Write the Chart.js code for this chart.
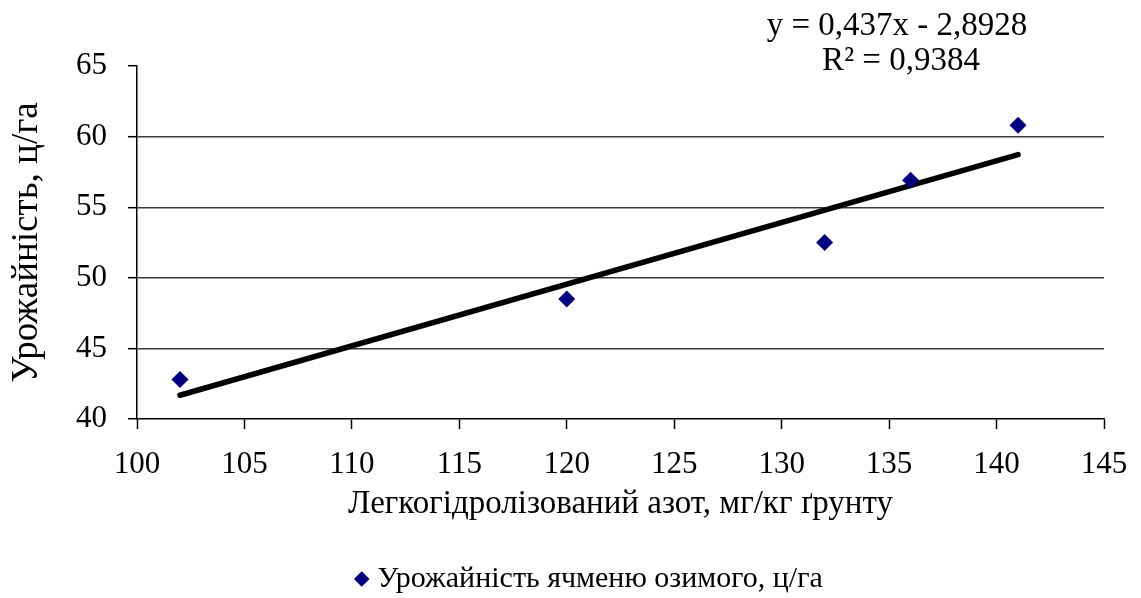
<!DOCTYPE html>
<html>
<head>
<meta charset="utf-8">
<script src="https://cdn.jsdelivr.net/npm/chart.js@4/dist/chart.umd.min.js"></script>
<style>
  html, body { margin: 0; padding: 0; background: #fff; }
  #wrap { width: 1141px; height: 598px; }
</style>
</head>
<body>
<div id="wrap"><canvas id="yieldChart" width="1141" height="598"></canvas></div>
<script>
// Легкогідролізований азот (мг/кг) vs урожайність ячменю (ц/га)
var nitrogen = [102, 120, 132, 136, 141];
var yieldValues = [42.8, 48.5, 52.5, 56.9, 60.8];

// linear trend y = a*x + b
var trendSlope = 0.437;
var trendIntercept = -2.8928;
var trendR2 = '0,9384';

var xRange = [100, 145];
var yRange = [40, 65];
var tickStep = 5;

var seriesLabel = 'Урожайність ячменю озимого, ц/га';
var xTitle = 'Легкогідролізований азот, мг/кг ґрунту';
var yTitle = 'Урожайність, ц/га';

var serif = "'Liberation Serif', 'Times New Roman', serif";

var points = nitrogen.map(function (x, i) { return { x: x, y: yieldValues[i] }; });

var xLo = Math.min.apply(null, nitrogen);
var xHi = Math.max.apply(null, nitrogen);
var trendPoints = [
  { x: xLo, y: trendSlope * xLo + trendIntercept },
  { x: xHi, y: trendSlope * xHi + trendIntercept }
];

function fmt(n) { return String(n).replace('.', ','); }
var eqLine1 = 'y = ' + fmt(trendSlope) + 'x - ' + fmt(Math.abs(trendIntercept));
var eqLine2 = 'R² = ' + trendR2;

// equation of the trend drawn in the top right corner
var equationPlugin = {
  id: 'equation',
  afterDraw: function (chart) {
    var ctx = chart.ctx;
    var area = chart.chartArea;
    ctx.save();
    ctx.fillStyle = '#000';
    ctx.font = '33px ' + serif;
    ctx.textAlign = 'center';
    ctx.textBaseline = 'middle';
    ctx.fillText(eqLine1, area.right - 207, 26);
    ctx.fillText(eqLine2, area.right - 203, 61);
    ctx.restore();
  }
};

// legend sits a little right of the canvas centre and near the bottom edge
var legendShift = {
  id: 'legendShift',
  afterLayout: function (chart) {
    var lg = chart.legend;
    lg.left += 40;
    lg.right += 40;
    lg.top += 6;
    lg.bottom += 6;
  }
};

var ctx = document.getElementById('yieldChart');

var chart = new Chart(ctx, {
  type: 'scatter',
  data: {
    datasets: [{
      label: seriesLabel,
      data: points,
      pointStyle: 'rectRot',
      pointRadius: 8.5,
      pointHoverRadius: 8.5,
      backgroundColor: '#000080',
      borderColor: '#000080',
      borderWidth: 0,
      order: 1
    }, {
      type: 'line',
      label: 'trend',
      data: trendPoints,
      borderColor: '#000',
      borderWidth: 5.5,
      borderCapStyle: 'round',
      pointRadius: 0,
      fill: false,
      order: 2
    }]
  },
  options: {
    responsive: false,
    animation: false,
    layout: { padding: { left: 0, right: 37, top: 66, bottom: 0 } },
    plugins: {
      tooltip: { enabled: false },
      legend: {
        position: 'bottom',
        labels: {
          usePointStyle: true,
          boxWidth: 1,
          boxHeight: 11,
          color: '#000',
          font: { family: serif, size: 30 },
          padding: 2,
          filter: function (item) { return item.datasetIndex === 0; }
        }
      }
    },
    scales: {
      x: {
        type: 'linear',
        min: xRange[0],
        max: xRange[1],
        ticks: {
          stepSize: tickStep,
          color: '#000',
          padding: 13,
          font: { family: serif, size: 31, lineHeight: 1.45 }
        },
        grid: {
          drawOnChartArea: false,
          drawTicks: true,
          tickLength: 10,
          tickColor: '#000',
          tickWidth: 1.5
        },
        border: { color: '#000', width: 1.5 },
        title: {
          display: true,
          text: xTitle,
          color: '#000',
          font: { family: serif, size: 33 },
          padding: { top: 0, bottom: 32 }
        },
        afterFit: function (scale) { scale.height = 137; }
      },
      y: {
        min: yRange[0],
        max: yRange[1],
        ticks: {
          stepSize: tickStep,
          color: '#000',
          padding: 21,
          font: { family: serif, size: 31 }
        },
        grid: {
          color: function (c) {
            var v = c.tick ? c.tick.value : null;
            return (v === yRange[0] || v === yRange[1]) ? 'rgba(0,0,0,0)' : '#3a3a3a';
          },
          lineWidth: 1.4,
          tickLength: 9,
          tickColor: '#000',
          tickWidth: 1.5
        },
        border: { color: '#000', width: 1.5 },
        title: {
          display: true,
          text: yTitle,
          color: '#000',
          font: { family: serif, size: 37 },
          padding: { top: 5, bottom: 0 }
        },
        afterFit: function (scale) { scale.width = 137; }
      }
    }
  },
  plugins: [equationPlugin, legendShift]
});
</script>
</body>
</html>
